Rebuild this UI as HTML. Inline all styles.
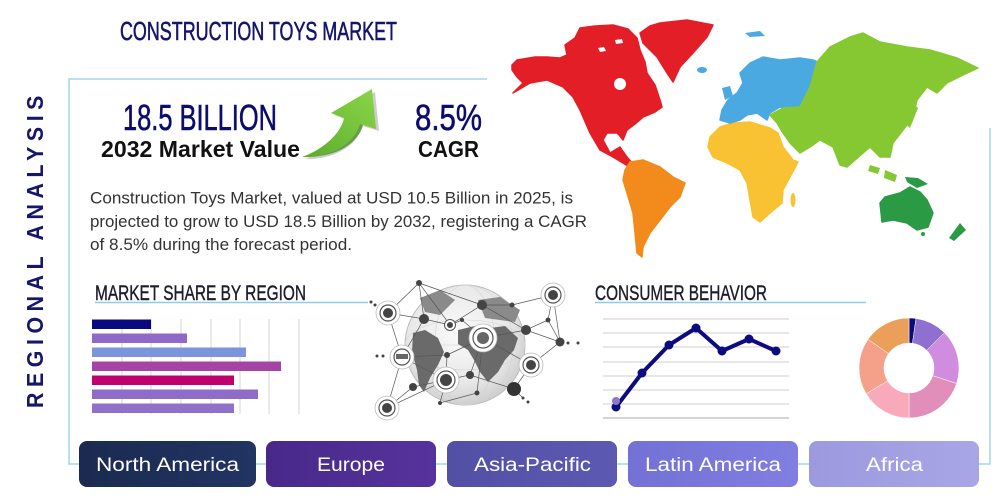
<!DOCTYPE html>
<html><head><meta charset="utf-8"><style>
html,body{margin:0;padding:0;background:#fff;overflow:hidden;}
svg{display:block;}
</style></head><body>
<svg width="1000" height="500" viewBox="0 0 1000 500" xmlns="http://www.w3.org/2000/svg">
<defs>
<linearGradient id="arrowG" x1="0" y1="1" x2="1" y2="0">
<stop offset="0" stop-color="#5aa82a"/><stop offset="0.5" stop-color="#74c23a"/><stop offset="1" stop-color="#8ad448"/>
</linearGradient>
<radialGradient id="globeG" cx="0.45" cy="0.4" r="0.6">
<stop offset="0" stop-color="#fafafa"/><stop offset="0.7" stop-color="#e8e8e8"/><stop offset="1" stop-color="#cfcfcf"/>
</radialGradient>
<linearGradient id="b1" x1="0" x2="1"><stop offset="0" stop-color="#1a2a50"/><stop offset="1" stop-color="#223463"/></linearGradient>
<linearGradient id="b2" x1="0" x2="1"><stop offset="0" stop-color="#48298a"/><stop offset="1" stop-color="#56339c"/></linearGradient>
<linearGradient id="b3" x1="0" x2="1"><stop offset="0" stop-color="#5250a4"/><stop offset="1" stop-color="#5c59b2"/></linearGradient>
<linearGradient id="b4" x1="0" x2="1"><stop offset="0" stop-color="#7471d6"/><stop offset="1" stop-color="#807ee0"/></linearGradient>
<linearGradient id="b5" x1="0" x2="1"><stop offset="0" stop-color="#9c99df"/><stop offset="1" stop-color="#a8a6e6"/></linearGradient>
</defs>
<rect width="1000" height="500" fill="#fff"/>

<!-- frame -->
<polyline points="487,79 69,79 69,464 990,464 990,128" fill="none" stroke="#a3d6e8" stroke-width="1.5"/>

<!-- vertical title -->
<text transform="translate(43,408) rotate(-90)" font-family="Liberation Sans, sans-serif" font-size="23" font-weight="bold" fill="#16166a" letter-spacing="6" textLength="318" lengthAdjust="spacingAndGlyphs">REGIONAL ANALYSIS</text>

<!-- title -->
<text x="120" y="40" font-family="Liberation Sans, sans-serif" font-size="26" fill="#15156b" stroke="#15156b" stroke-width="0.6" textLength="277" lengthAdjust="spacingAndGlyphs">CONSTRUCTION TOYS MARKET</text>

<!-- KPIs -->
<text x="123" y="130" font-family="Liberation Sans, sans-serif" font-size="36" fill="#0c0c6e" stroke="#0c0c6e" stroke-width="0.6" textLength="154" lengthAdjust="spacingAndGlyphs">18.5 BILLION</text>
<text x="101" y="157" font-family="Liberation Sans, sans-serif" font-size="23" font-weight="bold" fill="#111" textLength="199" lengthAdjust="spacingAndGlyphs">2032 Market Value</text>
<text x="415" y="130" font-family="Liberation Sans, sans-serif" font-size="36" fill="#0c0c6e" stroke="#0c0c6e" stroke-width="0.6" textLength="67" lengthAdjust="spacingAndGlyphs">8.5%</text>
<text x="418" y="157" font-family="Liberation Sans, sans-serif" font-size="23" font-weight="bold" fill="#111" textLength="61" lengthAdjust="spacingAndGlyphs">CAGR</text>

<!-- arrow -->
<path d="M305,159 C328,160 355,150 363,126 L379,131 L375,92 L334,115 L347,120 C344,136 325,152 305,159 Z" fill="#9a9a9a" opacity="0.5"/>
<path d="M302,157 C325,158 352,148 360,124 L376,129 L372,89 L331,113 L344,118 C341,134 322,150 302,157 Z" fill="url(#arrowG)"/>
<path d="M302,157 C325,158 352,148 360,124 L363,125 C356,148 330,158 302,157 Z" fill="#4a9424" opacity="0.8"/>

<!-- paragraph -->
<g font-family="Liberation Sans, sans-serif" font-size="17" fill="#333">
<text x="90" y="203.5" textLength="483" lengthAdjust="spacingAndGlyphs">Construction Toys Market, valued at USD 10.5 Billion in 2025, is</text>
<text x="90" y="227" textLength="497" lengthAdjust="spacingAndGlyphs">projected to grow to USD 18.5 Billion by 2032, registering a CAGR</text>
<text x="90" y="250" textLength="262" lengthAdjust="spacingAndGlyphs">of 8.5% during the forecast period.</text>
</g>

<!-- world map -->
<g stroke-linejoin="round" stroke-width="1.5">
<polygon fill="#e31e26" stroke="#e31e26" points="512,65 517,60 535,57 547,57 560,58 567,55 565,45 575,38 580,28 595,26 613,25 628,29 637,38 640,50 645,62 647,73 655,85 660,100 662,107 655,112 643,117 635,124 627,130 623,140 620,136 617,133 607,133 603,140 610,153 620,147 627,157 632,163 628,166 613,157 600,150 590,133 580,110 573,97 563,87 547,80 530,83 513,93 523,83 517,77 512,70"/>
<ellipse cx="620" cy="84" rx="6" ry="6" fill="#fff"/>
<polygon fill="#fff" points="598,48 604,47 606,51 600,52"/>
<polygon fill="#fff" points="615,40 622,39 623,43 616,44"/>
<polygon fill="#e31e26" stroke="#e31e26" points="640,33 650,26 660,23 687,20 713,25 707,37 693,53 680,67 673,82 667,73 657,57 643,43"/>
<polygon fill="#f28a1c" stroke="#f28a1c" points="630,162 643,160 660,167 673,177 685,183 680,197 670,207 660,220 650,233 643,247 642,257 637,253 635,233 633,213 627,193 623,180 625,170"/>
<polygon fill="#f9c232" stroke="#f9c232" points="720,127 733,123 750,122 770,128 778,133 783,147 793,160 798,162 790,177 783,190 782,203 770,213 760,222 753,217 750,200 747,183 740,170 727,163 713,157 708,147 710,137"/>
<ellipse cx="793" cy="200" rx="2.5" ry="7" fill="#f9c232"/>
<polygon fill="#4aa9e0" stroke="#4aa9e0" points="720,120 722,110 728,100 737,93 743,83 740,73 750,63 763,57 780,60 800,58 813,60 820,63 810,83 805,103 793,110 780,107 770,113 767,120 757,113 747,115 740,120 730,123"/>
<polygon fill="#4aa9e0" points="722,88 730,86 733,96 725,100"/>
<ellipse cx="702" cy="70" rx="5" ry="3" fill="#4aa9e0"/>
<polygon fill="#4aa9e0" points="745,33 760,31 765,36 750,37"/>
<polygon fill="#86c832" stroke="#86c832" points="817,62 830,47 850,37 863,33 880,42 907,47 930,50 957,58 978,68 963,75 947,83 937,93 927,87 917,100 913,117 903,130 893,143 890,157 880,157 870,147 863,153 847,167 840,165 833,147 820,140 810,147 800,153 790,143 783,133 777,123 770,115 783,108 800,107 810,87"/>
<polygon fill="#86c832" points="913,103 918,108 910,128 905,124"/>
<polygon fill="#86c832" points="870,165 880,168 878,174 868,171"/>
<polygon fill="#86c832" points="885,170 897,175 895,182 884,178"/>
<polygon fill="#2a9a45" stroke="#2a9a45" points="880,203 885,197 900,193 910,187 920,192 927,200 933,213 928,227 917,230 907,223 893,220 882,222"/>
<polygon fill="#2a9a45" points="905,177 918,178 928,184 917,188 907,182"/>
<polygon fill="#2a9a45" points="960,223 966,230 954,241 949,238"/>
<ellipse cx="923" cy="234" rx="2" ry="2" fill="#2a9a45"/>
</g>

<!-- Section headings -->
<text x="95" y="300" font-family="Liberation Sans, sans-serif" font-size="21" fill="#1c1c2c" stroke="#1c1c2c" stroke-width="0.4" textLength="211" lengthAdjust="spacingAndGlyphs">MARKET SHARE BY REGION</text>
<line x1="95" y1="302.5" x2="368" y2="302.5" stroke="#8fcde2" stroke-width="1.5"/>
<text x="595" y="300" font-family="Liberation Sans, sans-serif" font-size="21" fill="#1c1c2c" stroke="#1c1c2c" stroke-width="0.4" textLength="172" lengthAdjust="spacingAndGlyphs">CONSUMER BEHAVIOR</text>
<line x1="595" y1="302.5" x2="866" y2="302.5" stroke="#8fcde2" stroke-width="1.5"/>

<!-- bar chart -->
<g stroke="#d4d4dc" stroke-width="1">
<line x1="122" y1="319" x2="122" y2="414"/><line x1="151" y1="319" x2="151" y2="414"/>
<line x1="181" y1="319" x2="181" y2="414"/><line x1="211" y1="319" x2="211" y2="414"/>
<line x1="240" y1="319" x2="240" y2="414"/><line x1="269" y1="319" x2="269" y2="414"/>
<line x1="299" y1="319" x2="299" y2="414"/>
</g>
<rect x="92" y="319.5" width="59" height="9.5" fill="#0a0a80"/>
<rect x="92" y="333.5" width="95" height="9.5" fill="#9068c8"/>
<rect x="92" y="347.5" width="154" height="9.5" fill="#7b94dc"/>
<rect x="92" y="361.5" width="189" height="9.5" fill="#a444a4"/>
<rect x="92" y="375.5" width="142" height="9.5" fill="#c0006e"/>
<rect x="92" y="389.5" width="166" height="9.5" fill="#8e6cc8"/>
<rect x="92" y="403.5" width="142" height="9.5" fill="#9070c8"/>

<!-- globe network -->
<circle cx="465" cy="345" r="60" fill="url(#globeG)" stroke="#bbb" stroke-width="1"/>
<g fill="none" stroke="#d2d2d2" stroke-width="0.6">
<ellipse cx="465" cy="345" rx="30" ry="60"/><ellipse cx="465" cy="345" rx="48" ry="60"/>
<ellipse cx="465" cy="345" rx="60" ry="25"/><line x1="405" y1="345" x2="525" y2="345"/>
</g>
<g fill="#6a6a6a">
<polygon points="413,333 425,330 438,338 444,352 438,365 430,378 424,392 419,385 417,370 412,352"/>
<polygon points="458,330 475,326 490,328 505,326 518,338 514,350 505,360 498,372 488,382 480,372 474,360 468,350 458,344"/>
<polygon points="478,300 500,297 520,310 515,322 500,320 485,318" fill="#8a8a8a"/>
<polygon points="420,298 440,290 455,300 440,315 425,312" fill="#8a8a8a"/>
</g>
<g stroke="#555" stroke-width="0.7" fill="none">
<polyline points="388,313 419,283 424,319 388,313 402,357 387,408 446,380 470,375 483,338 526,330 560,342 531,365 514,389 470,375"/>
<polyline points="402,357 447,355 446,380 413,387 387,408"/>
<polyline points="424,319 450,325 482,305 512,305 553,295 548,320 526,330 482,305 419,283 450,325 462,320 483,338 447,355"/>
<polyline points="402,357 424,319 402,357 446,380"/>
<polyline points="553,295 560,342 548,320"/>
<polyline points="531,365 483,338 477,393 440,403 446,380"/>
<polyline points="514,389 523,398"/>
</g>
<g>
<g fill="#fff" stroke="#bbb" stroke-width="0.8">
<circle cx="388" cy="313" r="12"/><circle cx="553" cy="295" r="12"/><circle cx="402" cy="357" r="12"/>
<circle cx="446" cy="380" r="13"/><circle cx="531" cy="365" r="12"/><circle cx="387" cy="408" r="12"/>
<circle cx="483" cy="338" r="14"/>
</g>
<g fill="#fff" stroke="#555" stroke-width="1.2">
<circle cx="388" cy="313" r="8"/><circle cx="553" cy="295" r="8"/><circle cx="402" cy="357" r="8"/>
<circle cx="446" cy="380" r="9"/><circle cx="531" cy="365" r="8"/><circle cx="387" cy="408" r="8"/>
<circle cx="483" cy="338" r="10"/>
</g>
<g fill="#444">
<circle cx="388" cy="313" r="5"/><circle cx="553" cy="295" r="5"/><circle cx="446" cy="380" r="6"/>
<circle cx="531" cy="365" r="5"/><circle cx="387" cy="408" r="5"/><circle cx="483" cy="338" r="6" fill="#666"/>
<rect x="396" y="354" width="12" height="5" fill="#666"/>
<circle cx="514" cy="389" r="7" fill="#333"/>
<circle cx="424" cy="319" r="5"/><circle cx="450" cy="325" r="5.5" fill="#fff" stroke="#555"/>
<circle cx="450" cy="325" r="3"/>
<circle cx="482" cy="305" r="5"/><circle cx="526" cy="330" r="5"/><circle cx="560" cy="342" r="4.5"/>
<circle cx="413" cy="387" r="4"/><circle cx="470" cy="375" r="4"/><circle cx="447" cy="355" r="3"/>
<circle cx="419" cy="283" r="3"/><circle cx="512" cy="305" r="2.5"/><circle cx="548" cy="320" r="2.5"/>
<circle cx="462" cy="320" r="2"/><circle cx="440" cy="403" r="2"/><circle cx="477" cy="393" r="2.5"/>
<circle cx="371" cy="302" r="1.5"/><circle cx="375" cy="305" r="1.5"/>
<circle cx="377" cy="356" r="1.5"/><circle cx="383" cy="356" r="1.5"/>
<circle cx="568" cy="343" r="1.5"/><circle cx="578" cy="343" r="1.5"/>
<circle cx="523" cy="398" r="1.5"/><circle cx="528" cy="402" r="1.5"/>
</g>
</g>

<!-- line chart -->
<g stroke="#cfcfcf" stroke-width="1">
<line x1="603" y1="319" x2="789" y2="319"/><line x1="603" y1="333" x2="789" y2="333"/>
<line x1="603" y1="347" x2="789" y2="347"/><line x1="603" y1="362" x2="789" y2="362"/>
<line x1="603" y1="376" x2="789" y2="376"/><line x1="603" y1="390" x2="789" y2="390"/>
<line x1="603" y1="404" x2="789" y2="404"/><line x1="603" y1="418" x2="789" y2="418" stroke="#aaa"/>
</g>
<polyline points="616,407 642,373 669,345 696,328 722,351 749,339 776,351" fill="none" stroke="#0c0c80" stroke-width="4" stroke-linejoin="round"/>
<g fill="#0c0c80">
<circle cx="616" cy="407" r="4.5"/><circle cx="642" cy="373" r="4.5"/><circle cx="669" cy="345" r="4.5"/>
<circle cx="696" cy="328" r="4.5"/><circle cx="722" cy="351" r="4.5"/><circle cx="749" cy="339" r="4.5"/>
<circle cx="776" cy="351" r="4.5"/>
</g>
<circle cx="616" cy="401" r="4" fill="#8e78c8"/>

<!-- donut -->
<g stroke="#fff" stroke-width="0.5">
<path d="M909,318 A50,50 0 0 1 915.96,318.49 L912.48,343.24 A25,25 0 0 0 909,343 Z" fill="#0a0a78"/>
<path d="M915.96,318.49 A50,50 0 0 1 944.36,332.64 L926.68,350.32 A25,25 0 0 0 912.48,343.24 Z" fill="#8f6fcf"/>
<path d="M944.36,332.64 A50,50 0 0 1 956.55,383.45 L932.78,375.73 A25,25 0 0 0 926.68,350.32 Z" fill="#d08de0"/>
<path d="M956.55,383.45 A50,50 0 0 1 909,418 L909,393 A25,25 0 0 0 932.78,375.73 Z" fill="#e28ebb"/>
<path d="M909,418 A50,50 0 0 1 866.14,393.75 L887.57,380.88 A25,25 0 0 0 909,393 Z" fill="#f8aabb"/>
<path d="M866.14,393.75 A50,50 0 0 1 868.04,339.32 L888.52,353.66 A25,25 0 0 0 887.57,380.88 Z" fill="#f5a088"/>
<path d="M868.04,339.32 A50,50 0 0 1 909,318 L909,343 A25,25 0 0 0 888.52,353.66 Z" fill="#eaa05a"/>
</g>

<!-- buttons -->
<rect x="79" y="441" width="177" height="46" rx="8" fill="url(#b1)"/>
<rect x="266" y="441" width="170" height="46" rx="8" fill="url(#b2)"/>
<rect x="447" y="441" width="170" height="46" rx="8" fill="url(#b3)"/>
<rect x="628" y="441" width="170" height="46" rx="8" fill="url(#b4)"/>
<rect x="809" y="441" width="170" height="46" rx="8" fill="url(#b5)"/>
<g font-family="Liberation Sans, sans-serif" font-size="19" fill="#fff">
<text x="96" y="471" textLength="143" lengthAdjust="spacingAndGlyphs">North America</text>
<text x="317" y="471" textLength="68" lengthAdjust="spacingAndGlyphs">Europe</text>
<text x="474" y="471" textLength="117" lengthAdjust="spacingAndGlyphs">Asia-Pacific</text>
<text x="645" y="471" textLength="136" lengthAdjust="spacingAndGlyphs">Latin America</text>
<text x="866" y="471" textLength="57" lengthAdjust="spacingAndGlyphs">Africa</text>
</g>
</svg>
</body></html>
